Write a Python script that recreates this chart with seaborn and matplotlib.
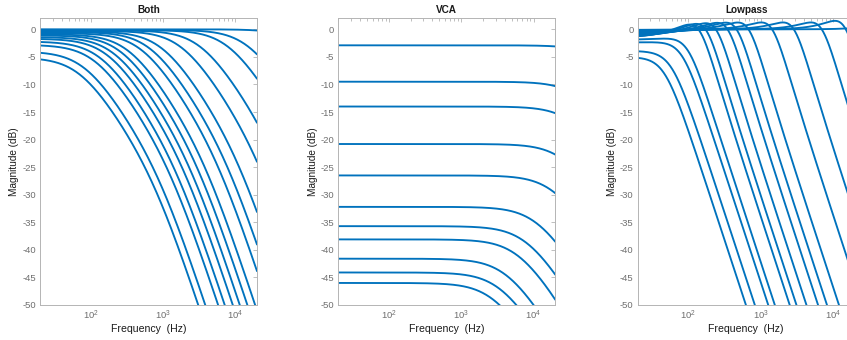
import numpy as np
import pandas as pd
import matplotlib
matplotlib.use("Agg")
import matplotlib.pyplot as plt
import seaborn as sns

# ---------------- data ----------------
panel_titles = ["Both", "VCA", "Lowpass"]
x_ticks = [100, 1000, 10000]
y_ticks = [-50, -45, -40, -35, -30, -25, -20, -15, -10, -5, 0]

# "Both": passband gain (dB) and first corner (Hz); second corner = ratio * first
both_gain_db = [-5.1, -4.0, -2.8, -2.2, -1.7, -1.4, -1.1, -0.9,
                -0.7, -0.5, -0.4, -0.3, -0.2, -0.15, -0.1, 0.0]
both_corner_hz = [70, 82, 115, 137, 172, 211, 264, 334,
                  504, 667, 962, 1818, 3333, 8000, 15150, 90000]
both_corner_ratio = 11.4

# "VCA": passband gain (dB) and first corner (Hz)
vca_gain_db = [-2.9, -9.5, -14.0, -20.8, -26.5, -32.2, -35.7, -38.1, -41.6, -44.1, -46.0]
vca_corner_hz = [92600, 44500, 35500, 27000, 19200, 11200, 8000, 6170, 4220, 3450, 2780]

# "Lowpass": low-frequency gain (dB), cutoff (Hz), resonance Q, low shelf depth (dB)
lp_gain_db = [-5.0, -3.9, -2.4, -1.9, 0, 0, 0, 0, 0, 0, 0, 0, 0, 0, 0]
lp_cutoff_hz = [47, 58.6, 82.3, 98.6, 142, 176, 242, 350, 465, 681, 1441, 2875, 7000, 14400, 80000]
lp_q = [0.7, 0.7, 0.75, 0.8, 1.0, 1.0, 1.0, 1.0, 1.0, 1.0, 1.0, 1.0, 1.0, 1.05, 1.0]
lp_shelf_db = [0, 0, 0, 0, -1.5, -1.4, -1.3, -1.15, -1.0, -0.85, -0.7, -0.55, -0.4, -0.25, -0.1]
lp_shelf_hz = 65

# ---------------- responses ----------------
freq = np.logspace(np.log10(20), np.log10(20000), 500)


def two_pole_real(f, g, f1, ratio):
    return (g - 10 * np.log10(1 + (f / f1) ** 2)
            - 10 * np.log10(1 + (f / (ratio * f1)) ** 2))


def resonant_lp(f, g, fc, q, shelf_db, fs):
    x = f / fc
    lp = -10 * np.log10((1 - x ** 2) ** 2 + (x / q) ** 2)
    d = 10 ** (shelf_db / 20)
    r = f / fs
    sh = 10 * np.log10((d ** 2 + r ** 2) / (1 + r ** 2))
    return g + lp + sh


frames = {"Both": [], "VCA": [], "Lowpass": []}
for i, (g, f1) in enumerate(zip(both_gain_db, both_corner_hz)):
    frames["Both"].append(pd.DataFrame({"f": freq, "db": two_pole_real(freq, g, f1, both_corner_ratio), "curve": i}))
for i, (g, f1) in enumerate(zip(vca_gain_db, vca_corner_hz)):
    frames["VCA"].append(pd.DataFrame({"f": freq, "db": two_pole_real(freq, g, f1, both_corner_ratio), "curve": i}))
for i, (g, fc, q, sd) in enumerate(zip(lp_gain_db, lp_cutoff_hz, lp_q, lp_shelf_db)):
    frames["Lowpass"].append(pd.DataFrame({"f": freq, "db": resonant_lp(freq, g, fc, q, sd, lp_shelf_hz), "curve": i}))

# ---------------- figure ----------------
sns.set_theme(style="white")
plt.rcParams["font.family"] = ["Liberation Sans", "DejaVu Sans"]
plt.rcParams["mathtext.fontset"] = "custom"
plt.rcParams["mathtext.rm"] = "Liberation Sans"
plt.rcParams["mathtext.it"] = "Liberation Sans"

W, H = 847, 340
fig = plt.figure(figsize=(W / 100, H / 100), dpi=100)
lefts = [40, 338.3, 637.7]
ax_w, ax_top, ax_bot = 217, 18.3, 305
line_color = "#0072BD"
axis_color = "#b4b4b4"
label_color = "#6f6f6f"

for left, title in zip(lefts, panel_titles):
    ax = fig.add_axes([left / W, (H - ax_bot) / H, ax_w / W, (ax_bot - ax_top) / H])
    df = pd.concat(frames[title], ignore_index=True)
    sns.lineplot(data=df, x="f", y="db", units="curve", estimator=None,
                 color=line_color, linewidth=1.35, ax=ax, legend=False)
    ax.set_xscale("log")
    ax.set_xlim(20, 20000)
    ax.set_ylim(-50, 2)
    ax.set_xticks(x_ticks)
    ax.set_yticks(y_ticks)
    ax.set_yticklabels([str(v) for v in y_ticks])
    ax.tick_params(which="both", direction="in", top=True, right=True,
                   colors=axis_color, labelcolor=label_color, labelsize=6.8, width=0.6)
    ax.tick_params(which="major", length=3, pad=3)
    ax.tick_params(which="minor", length=1.8)
    for sp in ax.spines.values():
        sp.set_color(axis_color)
        sp.set_linewidth(0.7)
    ax.set_title(title, fontsize=7.2, fontweight="bold", color="#1a1a1a", pad=4)
    ax.set_xlabel("Frequency  (Hz)", fontsize=7.6, color="#1a1a1a", labelpad=1)
    ax.set_ylabel("Magnitude (dB)", fontsize=7.2, color="#1a1a1a", labelpad=2)

fig.savefig("out.png", dpi=100)
